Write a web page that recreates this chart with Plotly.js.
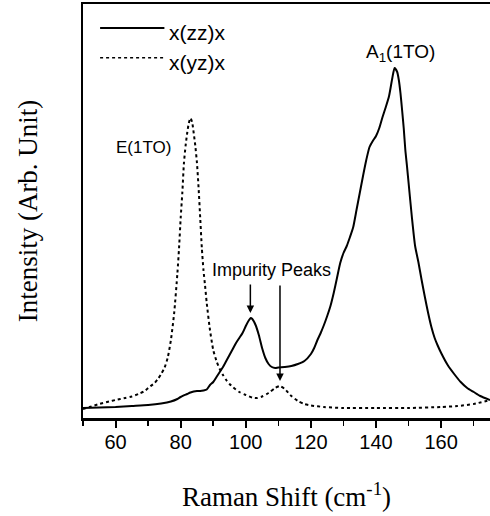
<!DOCTYPE html>
<html>
<head>
<meta charset="utf-8">
<script src="https://cdn.plot.ly/plotly-3.0.1.min.js"></script>
<style>html,body{margin:0;padding:0;background:#fff;}#chart{width:490px;height:516px;}</style>
</head>
<body>
<div id="chart"></div>
<script>
// x(zz)x polarisation (solid)
const zzShift = [50,55,60,65,70,74,77,79,80,82,83,84,85,86,87,88,89,90,91,92,93,94,95,96,97,98,99,100,101,101.5,102,103,104,105,106,107,108,109,110,112,114,116,118,120,121,122,123,124,125,126,127,128,129,130,131,132,133,134,135,136,137,138,139,140,141,142,143,144,145,145.7,146.5,147,147.5,148,148.5,149,149.5,150,151,152,153,154,155,156,157,158,159,160,162,164,166,168,170,172,175];
const zzIntensity = [10,10.5,11,12,13,14.5,16.5,19,21,24,25.5,26.5,27,27,27.5,28.5,33,36,41,46,51,57,63,69,75,80,85,92,98,100,99,93,83,70,60,54,51,50,50.5,51,52,54,57,64,70,78,85,93,102,112,125,140,155,165,172,181,191,208,225,242,258,271,277,282,290,301,311,322,340,350,346,338,325,308,290,268,252,235,201,172,156,138,121,105,91,80,72,65,53,44,36,30,26,22,18];
// x(yz)x polarisation (dotted)
const yzShift = [50,52,55,58,60,63,65,67,69,70,72,73,74,75,76,77,78,79,79.5,80,80.5,81,81.5,82,82.5,83,83.5,84,84.5,85,85.5,86,86.5,87,87.5,88,89,90,91,92,93,94,95,96,98,100,102,103.5,105,107,109,110.5,112,114,116,118,120,124,130,140,150,160,165,170,175];
const yzIntensity = [9,11,14,16.5,18,20,21.5,24,27,30,35,39,44,50,60,78,105,145,170,200,225,255,272,285,295,300,296,285,272,255,230,200,170,148,132,115,88,68,57,49,43,38,34,31,26,23,20.5,20,21.5,25,30,32,29,22,17,14,12.5,11,10,10,10,11,12,14,18];
const seriesNames = ["x(zz)x", "x(yz)x"];
const xTicks = [60,80,100,120,140,160];

const traces = [
  {x: zzShift, y: zzIntensity, name: seriesNames[0], type: 'scatter', mode: 'lines',
   line: {color: '#000', width: 2, shape: 'spline', smoothing: 0.6}},
  {x: yzShift, y: yzIntensity, name: seriesNames[1], type: 'scatter', mode: 'lines',
   line: {color: '#000', width: 2, dash: 'dot', shape: 'spline', smoothing: 0.6}}
];

const sans = 'Liberation Sans, Arial, sans-serif';
const serif = 'Liberation Serif, Times New Roman, serif';

// legend drawn as key lines + labels in paper coordinates
const legendRows = [0.942, 0.870];
const legendShapes = seriesNames.map((n, i) => ({
  type: 'line', xref: 'paper', yref: 'paper', x0: 0.042, x1: 0.2, y0: legendRows[i], y1: legendRows[i],
  line: {color: '#000', width: i === 0 ? 2 : 1.5, dash: i === 0 ? 'solid' : 'dot'}
}));
const legendLabels = seriesNames.map((n, i) => ({
  xref: 'paper', yref: 'paper', x: 0.207, y: legendRows[i] - 0.012, xanchor: 'left', yanchor: 'middle',
  text: n, showarrow: false, font: {family: sans, size: 21, color: '#000'}
}));

const layout = {
  width: 490, height: 516,
  margin: {l: 83, r: 0, t: 4, b: 98},
  paper_bgcolor: '#fff', plot_bgcolor: '#fff',
  showlegend: false,
  xaxis: {
    range: [50, 175], tickvals: xTicks, ticktext: xTicks.map(String),
    showline: true, linecolor: '#000', linewidth: 2.5, mirror: true,
    ticks: 'outside', ticklen: 7, tickwidth: 2, tickcolor: '#000', ticklabelstandoff: -3,
    minor: {dtick: 10, tick0: 0, ticks: 'outside', ticklen: 5, tickwidth: 1.5, tickcolor: '#000'},
    showgrid: false, zeroline: false,
    tickfont: {family: sans, size: 20, color: '#000'},
    title: {text: 'Raman Shift (cm<sup>-1</sup>)', font: {family: serif, size: 27, color: '#000'}, standoff: 36}
  },
  yaxis: {
    range: [0, 414], showline: true, linecolor: '#000', linewidth: 2, mirror: false,
    showticklabels: false, ticks: '', showgrid: false, zeroline: false,
    title: {text: 'Intensity (Arb. Unit)', font: {family: serif, size: 27, color: '#000'}, standoff: 36}
  },
  shapes: legendShapes,
  annotations: legendLabels.concat([
    {x: 68.7, y: 271, xref: 'x', yref: 'y', text: 'E(1TO)', showarrow: false,
     font: {family: sans, size: 17, color: '#000'}},
    {x: 147.5, y: 365, xref: 'x', yref: 'y', text: 'A<sub>1</sub>(1TO)', showarrow: false,
     font: {family: sans, size: 19, color: '#000'}},
    {x: 108, y: 148, xref: 'x', yref: 'y', text: 'Impurity Peaks', showarrow: false,
     font: {family: sans, size: 18, color: '#000'}},
    {x: 101.4, y: 105, xref: 'x', yref: 'y', text: '', showarrow: true, ax: 0, ay: -30,
     arrowhead: 2, arrowsize: 1, arrowwidth: 1.5, arrowcolor: '#000'},
    {x: 110.5, y: 37, xref: 'x', yref: 'y', text: '', showarrow: true, ax: 0, ay: -97,
     arrowhead: 2, arrowsize: 1, arrowwidth: 1.5, arrowcolor: '#000'}
  ])
};

Plotly.newPlot('chart', traces, layout, {displayModeBar: false, staticPlot: true});
</script>
</body>
</html>
